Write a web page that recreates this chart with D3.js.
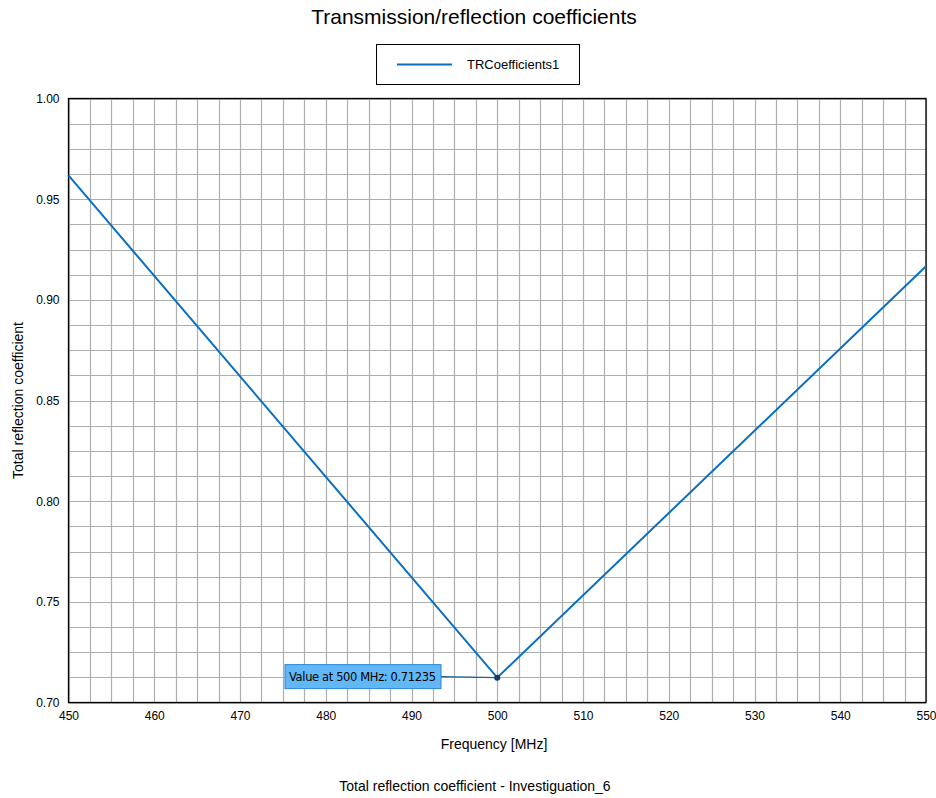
<!DOCTYPE html>
<html><head><meta charset="utf-8">
<script src="https://cdn.jsdelivr.net/npm/d3@7"></script>
<style>body{margin:0;background:#fff}svg{display:block}text{font-family:"Liberation Sans",Arial,sans-serif;fill:#000}</style>
</head><body>
<script>
const frequencies = [450, 500, 550];
const reflection = [0.9618, 0.71235, 0.9167];
const xTicks = [450, 460, 470, 480, 490, 500, 510, 520, 530, 540, 550];
const yTicks = [0.70, 0.75, 0.80, 0.85, 0.90, 0.95, 1.00];
const seriesName = "TRCoefficients1";
const annotationFreq = 500;
const annotationValue = 0.71235;

const W = 936, H = 798;
const m = {left: 68.5, right: 926, top: 98.5, bottom: 702.5};
const svg = d3.select("body").append("svg").attr("width", W).attr("height", H);
const x = d3.scaleLinear().domain([450, 550]).range([m.left, m.right]);
const y = d3.scaleLinear().domain([0.70, 1.00]).range([m.bottom, m.top]);

// grid
const gx = d3.range(450, 550.01, 2.5), gy = d3.range(0, 24.5, 1).map(i => 0.70 + i * 0.0125);
const g = svg.append("g");
g.selectAll("line.vx").data(gx).join("line").attr("x1", d => Math.round(x(d)) + 0.5).attr("x2", d => Math.round(x(d)) + 0.5)
  .attr("y1", m.top).attr("y2", m.bottom).attr("stroke", "#aeaeae").attr("stroke-width", 1.2);
g.selectAll("line.hy").data(gy).join("line").attr("y1", d => Math.round(y(d)) + 0.5).attr("y2", d => Math.round(y(d)) + 0.5)
  .attr("x1", m.left).attr("x2", m.right).attr("stroke", "#aeaeae").attr("stroke-width", 1.2);

// frame
svg.append("rect").attr("x", m.left).attr("y", m.top).attr("width", m.right - m.left).attr("height", m.bottom - m.top)
  .attr("fill", "none").attr("stroke", "#000").attr("stroke-width", 1.3);

// axes labels
const xa = svg.append("g").attr("transform", `translate(0,${m.bottom})`)
  .call(d3.axisBottom(x).tickValues(xTicks).tickSize(0).tickPadding(9).tickFormat(d3.format("d")));
xa.select(".domain").remove();
xa.selectAll("text").attr("font-size", 12).style("font-family", '"Liberation Sans",Arial,sans-serif');
const ya = svg.append("g").attr("transform", `translate(${m.left},0)`)
  .call(d3.axisLeft(y).tickValues(yTicks).tickSize(0).tickPadding(9).tickFormat(d3.format(".2f")));
ya.select(".domain").remove();
ya.selectAll("text").attr("font-size", 12).style("font-family", '"Liberation Sans",Arial,sans-serif');

// line
const pts = frequencies.map((f, i) => [f, reflection[i]]);
svg.append("path").datum(pts).attr("fill", "none").attr("stroke", "#0a6fc2").attr("stroke-width", 2)
  .attr("d", d3.line().x(d => x(d[0])).y(d => y(d[1])));

// annotation
const px = x(annotationFreq), py = y(annotationValue);
const bx = 285, bw = 156, bh = 24, by = py - 13;
svg.append("line").attr("x1", bx + bw).attr("x2", px).attr("y1", by + bh / 2).attr("y2", py)
  .attr("stroke", "#1f5f8f").attr("stroke-width", 1.3);
svg.append("rect").attr("x", bx).attr("y", by).attr("width", bw).attr("height", bh)
  .attr("fill", "#62b8f7").attr("stroke", "#2a86d0").attr("stroke-width", 1);
svg.append("text").attr("x", bx + 4).attr("y", by + 16.5).attr("font-size", 11.5)
  .style("font-family", '"DejaVu Sans",Verdana,sans-serif').attr("textLength", 147)
  .text(`Value at ${annotationFreq} MHz: ${annotationValue}`);
svg.append("circle").attr("cx", px).attr("cy", py).attr("r", 3).attr("fill", "#0d3a66");

// title
svg.append("text").attr("x", 474).attr("y", 24).attr("text-anchor", "middle").attr("font-size", 21)
  .text("Transmission/reflection coefficients");
// legend
svg.append("rect").attr("x", 376.5).attr("y", 44.5).attr("width", 203).attr("height", 40)
  .attr("fill", "#fff").attr("stroke", "#000").attr("stroke-width", 1);
svg.append("line").attr("x1", 397).attr("x2", 452).attr("y1", 64.5).attr("y2", 64.5).attr("stroke", "#0a6fc2").attr("stroke-width", 2);
svg.append("text").attr("x", 467).attr("y", 69).attr("font-size", 13).text(seriesName);

// axis titles
svg.append("text").attr("x", 494).attr("y", 749).attr("text-anchor", "middle").attr("font-size", 14).text("Frequency [MHz]");
svg.append("text").attr("transform", `translate(23,${(m.top + m.bottom) / 2}) rotate(-90)`).attr("text-anchor", "middle")
  .attr("font-size", 14).text("Total reflection coefficient");
svg.append("text").attr("x", 475).attr("y", 791).attr("text-anchor", "middle").attr("font-size", 14)
  .text("Total reflection coefficient - Investiguation_6");
</script>
</body></html>
